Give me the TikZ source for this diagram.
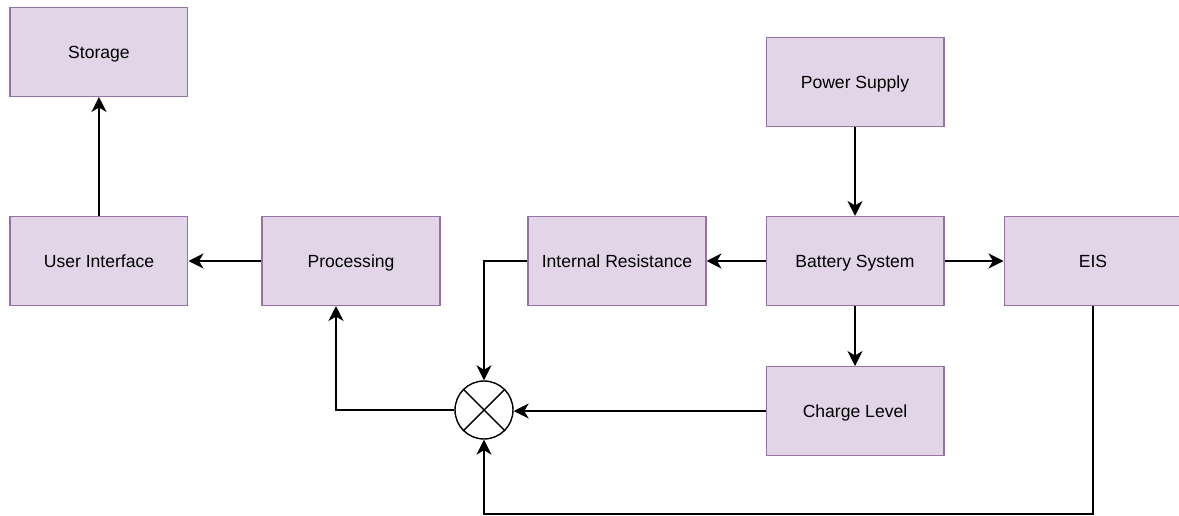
\documentclass[tikz,border=0pt]{standalone}
\usepackage{fontspec}
\setmainfont{Liberation Sans}
\usetikzlibrary{arrows.meta,positioning}
\definecolor{boxfill}{HTML}{E1D5E7}
\definecolor{boxline}{HTML}{9673A6}

\begin{document}
\begin{tikzpicture}
    [x=0.02cm, y=-0.02cm,
    block/.style={draw=boxline, fill=boxfill, line width=0.6pt, minimum width=3.56cm, minimum height=1.78cm, inner sep=0pt, text height=0.72em, text depth=0pt, font=\fontsize{10}{12}\selectfont},
    sumnode/.style={draw, circle, line width=0.8pt, minimum size=1.16cm, inner sep=0pt, fill=white},
    link/.style={-{Stealth[length=8.5pt, width=8.5pt, inset=2.5pt]}, line width=1.1pt}]
        \useasboundingbox (0,0) rectangle (1179,516);
        %% blocks
        \node[block] (battery) at (855,261) {Battery System};
        \node[block, above=1.78cm of battery] (power) {Power Supply};
        \node[block, below=1.2cm of battery] (charge) {Charge Level};
        \node[block, left=1.18cm of battery] (resist) {Internal Resistance};
        \node[block, right=1.18cm of battery] (eis) {EIS};
        \node[block, left=1.74cm of resist] (proc) {Processing};
        \node[block, left=1.46cm of proc] (ui) {User Interface};
        \node[block, above=2.38cm of ui] (storage) {Storage};
        %% summing junction
        \node[sumnode] (sum) at (484,410) {};
        \draw[line width=0.8pt] (sum.45) -- (sum.225) (sum.135) -- (sum.-45);

        \draw[link] (power) -- (battery);
        \draw[link] (battery) -- (resist);
        \draw[link] (battery) -- (eis);
        \draw[link] (battery) -- (charge);
        \draw[link] (resist.west) -| (sum.north);
        \draw[link] (charge.west) -- (charge.west -| sum.east);
        \draw[link] (eis.south) -- ++(0,208) -| (sum.south);
        \draw[link] (sum.west) -| ([xshift=-0.3cm]proc.south);
        \draw[link] (proc) -- (ui);
        \draw[link] (ui) -- (storage);
\end{tikzpicture}
\end{document}
